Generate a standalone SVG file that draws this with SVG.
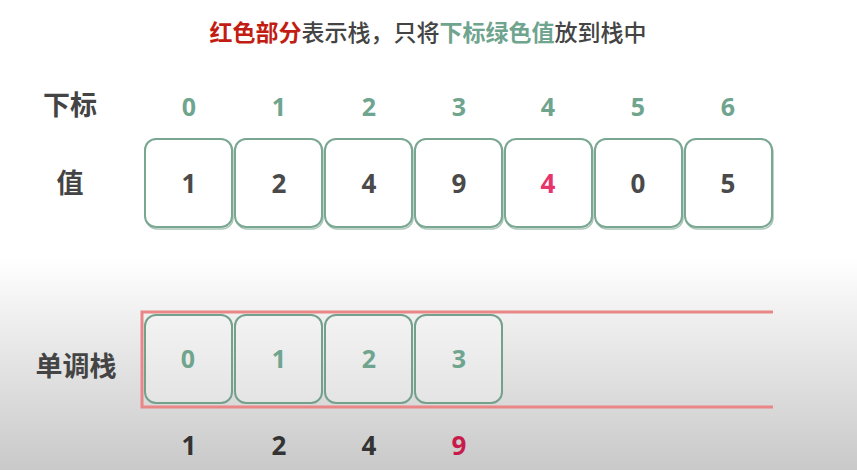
<svg xmlns="http://www.w3.org/2000/svg" width="857" height="470" viewBox="0 0 857 470">
<defs>
<linearGradient id="bg" x1="0" y1="0" x2="0" y2="1">
<stop offset="0" stop-color="#ffffff"/>
<stop offset="0.55" stop-color="#ffffff"/>
<stop offset="0.66" stop-color="#f1f1f1"/>
<stop offset="1" stop-color="#c9c9c9"/>
</linearGradient>
<linearGradient id="boxfill" x1="0" y1="0" x2="0" y2="1">
<stop offset="0" stop-color="#f3f3f3"/>
<stop offset="1" stop-color="#e4e4e4"/>
</linearGradient>
</defs>
<style>
.cn{font-family:"Noto Sans CJK SC","Noto Sans",sans-serif;font-weight:bold;}
.med{font-weight:500;}
.num{font-family:"Open Sans","Noto Sans",sans-serif;font-weight:bold;text-anchor:middle;}
.box{fill:#ffffff;stroke:#7aa792;stroke-width:2;}
.sbox{fill:url(#boxfill);stroke:#74a18c;stroke-width:2;}
.shadow{fill:none;stroke:#a9c6b9;stroke-width:1.5;}
.idx{fill:#6fa48e;font-size:25px;}
.val{fill:#4a4a4a;font-size:26px;}
.pink{fill:#e6356b;}
.crimson{fill:#c71c4b;}
.dark{fill:#333333;}
</style>
<rect width="857" height="470" fill="url(#bg)"/>
<text class="cn" x="428" y="41" font-size="23" text-anchor="middle"><tspan fill="#c21d12">红色部分</tspan><tspan class="med" fill="#444444">表示栈，只将</tspan><tspan fill="#6fa48e">下标绿色值</tspan><tspan class="med" fill="#444444">放到栈中</tspan></text>
<text class="cn" x="70" y="115" font-size="27" fill="#444444" text-anchor="middle">下标</text>
<text class="cn" x="70" y="193" font-size="27" fill="#444444" text-anchor="middle">值</text>
<text class="cn" x="76" y="376" font-size="27" fill="#444444" text-anchor="middle">单调栈</text>
<g id="indices">
<text class="num idx" x="189" y="116">0</text>
<text class="num idx" x="279" y="116">1</text>
<text class="num idx" x="369" y="116">2</text>
<text class="num idx" x="459" y="116">3</text>
<text class="num idx" x="548" y="116">4</text>
<text class="num idx" x="638" y="116">5</text>
<text class="num idx" x="728" y="116">6</text>
</g>
<g id="array">
<g id="a0"><rect class="shadow" x="146" y="141" width="87" height="88" rx="11"/><rect class="box" x="145" y="139" width="87" height="88" rx="11"/><text class="num val" x="189" y="193">1</text></g>
<g id="a1"><rect class="shadow" x="236" y="141" width="87" height="88" rx="11"/><rect class="box" x="235" y="139" width="87" height="88" rx="11"/><text class="num val" x="279" y="193">2</text></g>
<g id="a2"><rect class="shadow" x="326" y="141" width="87" height="88" rx="11"/><rect class="box" x="325" y="139" width="87" height="88" rx="11"/><text class="num val" x="369" y="193">4</text></g>
<g id="a3"><rect class="shadow" x="416" y="141" width="87" height="88" rx="11"/><rect class="box" x="415" y="139" width="87" height="88" rx="11"/><text class="num val" x="459" y="193">9</text></g>
<g id="a4"><rect class="shadow" x="506" y="141" width="87" height="88" rx="11"/><rect class="box" x="505" y="139" width="87" height="88" rx="11"/><text class="num val pink" x="548" y="193">4</text></g>
<g id="a5"><rect class="shadow" x="596" y="141" width="87" height="88" rx="11"/><rect class="box" x="595" y="139" width="87" height="88" rx="11"/><text class="num val" x="638" y="193">0</text></g>
<g id="a6"><rect class="shadow" x="686" y="141" width="87" height="88" rx="11"/><rect class="box" x="685" y="139" width="87" height="88" rx="11"/><text class="num val" x="728" y="193">5</text></g>
</g>
<g id="stack">
<path d="M773,312 H142 V407 H773" fill="none" stroke="#e98686" stroke-width="3"/>
<g id="s0"><rect class="sbox" x="145" y="315" width="87" height="88" rx="11"/><text class="num idx" x="188" y="368">0</text></g>
<g id="s1"><rect class="sbox" x="235" y="315" width="87" height="88" rx="11"/><text class="num idx" x="279" y="368">1</text></g>
<g id="s2"><rect class="sbox" x="325" y="315" width="87" height="88" rx="11"/><text class="num idx" x="369" y="368">2</text></g>
<g id="s3"><rect class="sbox" x="415" y="315" width="87" height="88" rx="11"/><text class="num idx" x="459" y="368">3</text></g>
</g>
<g id="stackvals">
<text class="num val dark" x="189" y="455">1</text>
<text class="num val dark" x="279" y="455">2</text>
<text class="num val dark" x="369" y="455">4</text>
<text class="num val crimson" x="459" y="455">9</text>
</g>
</svg>
